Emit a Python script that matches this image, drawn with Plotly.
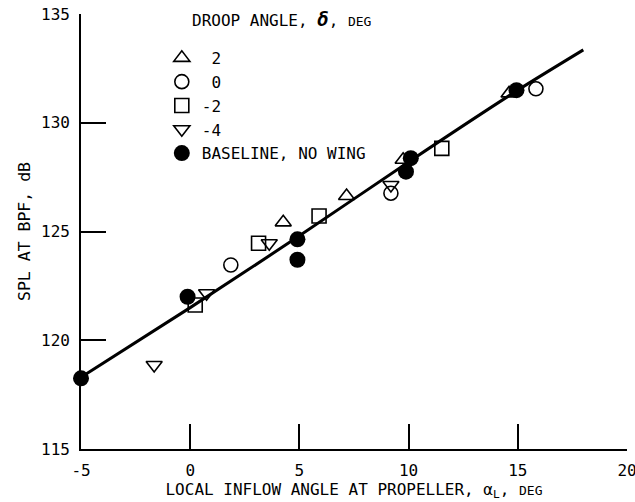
import plotly.graph_objects as go

# Droop angle 2 deg
tri_up_x = [4.26, 7.16, 9.75, 14.6]
tri_up_y = [125.42, 126.63, 128.3, 131.35]
# Droop angle 0 deg
circ_x = [1.86, 9.19, 15.83]
circ_y = [123.46, 126.76, 131.56]
# Droop angle -2 deg
sq_x = [0.23, 3.13, 5.9, 11.52]
sq_y = [121.62, 124.46, 125.71, 128.82]
# Droop angle -4 deg
tri_dn_x = [-1.65, 0.75, 3.62, 9.19]
tri_dn_y = [118.86, 122.16, 124.46, 127.14]
# Baseline, no wing
base_x = [-5.0, -0.12, 4.91, 4.91, 9.88, 10.1, 14.94]
base_y = [118.25, 122.0, 124.64, 123.7, 127.75, 128.37, 131.5]
# Faired curve through the data
fit_x = [-5.0, 0.0, 5.0, 10.0, 15.0, 18.0]
fit_y = [118.3, 121.5, 124.8, 128.2, 131.5, 133.35]

x_ticks = [-5, 0, 5, 10, 15, 20]
x_tick_text = ["-5", "0", "5", "10", "15", "20"]
y_ticks = [115, 120, 125, 130, 135]

FONT = "DejaVu Sans Mono"
INK = "black"

fig = go.Figure()

fig.add_trace(go.Scatter(
    x=fit_x, y=fit_y, mode="lines",
    line=dict(color=INK, width=3, shape="spline", smoothing=0.6),
    showlegend=False, cliponaxis=False, hoverinfo="skip"))

def open_series(x, y, symbol, name, size):
    fig.add_trace(go.Scatter(
        x=x, y=y, mode="markers", name=name, cliponaxis=False,
        marker=dict(symbol=symbol, size=size, color=INK,
                    line=dict(color=INK, width=1.6))))

open_series(tri_up_x, tri_up_y, "triangle-up-open", "\u00a02", 14)
open_series(circ_x, circ_y, "circle-open", "\u00a00", 14)
open_series(sq_x, sq_y, "square-open", "-2", 14)
open_series(tri_dn_x, tri_dn_y, "triangle-down-open", "-4", 14)

fig.add_trace(go.Scatter(
    x=base_x, y=base_y, mode="markers", name="BASELINE, NO WING",
    cliponaxis=False,
    marker=dict(symbol="circle", size=16, color=INK,
                line=dict(color=INK, width=0))))

axis_common = dict(
    showgrid=False, zeroline=False, showline=True, linecolor=INK,
    linewidth=1.6, ticks="inside", ticklen=25, tickwidth=1.6,
    tickcolor=INK, mirror=False, ticklabelstandoff=6,
    ticklabeloverflow="allow", automargin=False,
    tickfont=dict(family=FONT, size=16, color=INK))

fig.update_xaxes(
    range=[-5, 20], tickmode="array", tickvals=x_ticks, ticktext=x_tick_text,
    title=dict(text="LOCAL INFLOW ANGLE AT PROPELLER, \u03b1<sub>L</sub>, "
                    "<span style='font-size:13px'>DEG</span>",
               font=dict(family=FONT, size=16, color=INK), standoff=4),
    **axis_common)
fig.update_yaxes(
    range=[115, 135], tickmode="array", tickvals=y_ticks,
    title=dict(text="SPL AT BPF, dB",
               font=dict(family=FONT, size=16.5, color=INK), standoff=6),
    **axis_common)

fig.add_annotation(
    xref="paper", yref="paper", x=0.200, y=0.988,
    xanchor="left", yanchor="middle", showarrow=False,
    text="DROOP ANGLE, <b><i><span style='font-size:19px'>\u03b4</span></i></b>, "
         "<span style='font-size:13px'>DEG</span>",
    font=dict(family=FONT, size=16, color=INK))

fig.update_layout(
    width=635, height=502,
    margin=dict(l=81, r=8, t=14, b=53),
    paper_bgcolor="white", plot_bgcolor="white",
    showlegend=True,
    legend=dict(x=0.148, y=0.938, xanchor="left", yanchor="top",
                bgcolor="rgba(0,0,0,0)", borderwidth=0,
                font=dict(family=FONT, size=16, color=INK),
                itemsizing="trace", tracegroupgap=0),
)

fig.write_html("out.html")
